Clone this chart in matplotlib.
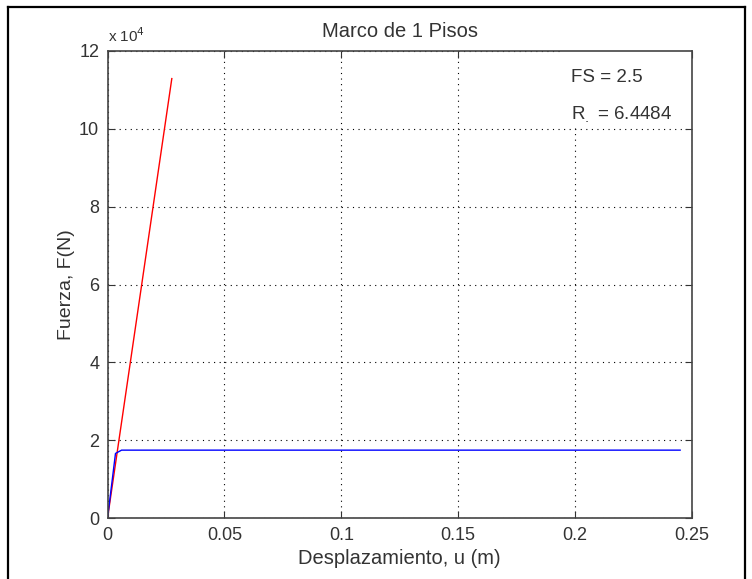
import matplotlib.pyplot as plt
from matplotlib.lines import Line2D
from matplotlib.patches import Rectangle
from matplotlib.ticker import FuncFormatter

plt.rcParams['font.family'] = ['Liberation Sans', 'DejaVu Sans']

# Elastic demand line (red)
u_red = [0.0, 0.0275]
f_red = [0.0, 112900.0]

# Capacity curve (blue)
u_blue = [0.0, 0.0034, 0.006, 0.245]
f_blue = [0.0, 16630.0, 17480.0, 17480.0]

x_ticks = [0, 0.05, 0.1, 0.15, 0.2, 0.25]
x_labels = ["0", "0.05", "0.1", "0.15", "0.2", "0.25"]
y_ticks = [0, 20000, 40000, 60000, 80000, 100000, 120000]

fig = plt.figure(figsize=(7.52, 5.79), dpi=100)
ax = fig.add_axes([0.143, 0.105, 0.777, 0.807])

ax.plot(u_red, f_red, color="red", linewidth=1.0)
ax.plot(u_blue, f_blue, color="blue", linewidth=1.0)

ax.set_xlim(0, 0.25)
ax.set_ylim(0, 120000)
ax.set_xticks(x_ticks)
ax.set_xticklabels(x_labels)
ax.set_yticks(y_ticks)
ax.yaxis.set_major_formatter(FuncFormatter(lambda v, p: f"{v / 1e4:g}"))

ax.grid(True, color="black", linestyle=(0, (1, 4)), linewidth=0.8)
ax.tick_params(direction="in", top=True, right=True, length=5, labelsize=13,
               colors="#333333", pad=6)
for s in ax.spines.values():
    s.set_color("#444444")
    s.set_linewidth(1.2)

ax.set_title("Marco de 1 Pisos", fontsize=14.5, color="#333333", pad=10)
ax.set_xlabel("Desplazamiento, u (m)", fontsize=14.5, color="#333333", labelpad=4)
ax.set_ylabel("Fuerza, F(N)", fontsize=14, color="#333333", labelpad=3)
ax.text(0.0, 1.012, "x 10$^4$", transform=ax.transAxes, fontsize=11, color="#333333",
        ha="left", va="bottom")

# white box behind the annotation (hides the grid there, spines stay on top)
ax.add_patch(Rectangle((0.194, 100300), 0.056, 19700, facecolor="white",
                       edgecolor="none", zorder=2))
ax.text(0.1983, 113100, "FS = 2.5", fontsize=13.5, color="#333333", va="center", zorder=4)
ax.text(0.1983, 103600, "R$_{.}$ = 6.4484", fontsize=13.5, color="#333333", va="center",
        zorder=4)

# outer frame of the figure
for xs, ys in [([8, 8], [0, 572]), ([8, 745], [572, 572]), ([745, 745], [0, 572])]:
    fig.add_artist(Line2D([x / 752 for x in xs], [y / 579 for y in ys],
                          color="black", linewidth=1.6, transform=fig.transFigure))

fig.savefig("out.png", dpi=100)
